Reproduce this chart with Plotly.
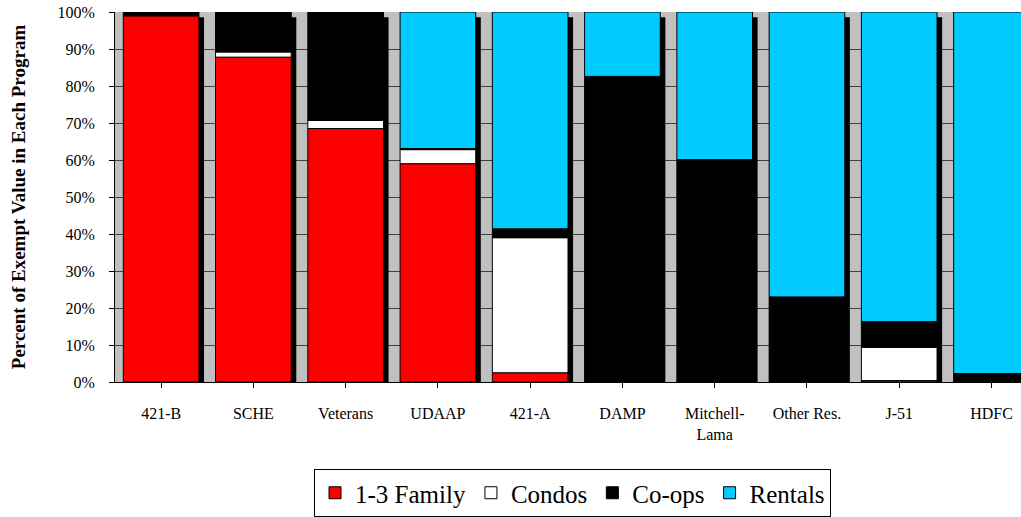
import numpy as np
import plotly.graph_objects as go

programs = ["421-B", "SCHE", "Veterans", "UDAAP", "421-A", "DAMP",
            "Mitchell-<br>Lama", "Other Res.", "J-51", "HDFC"]
family_1_3 = [99.0, 87.8, 68.5, 59.0, 2.5, 0.0, 0.0, 0.0, 0.4, 0.0]
condos = [0.0, 1.4, 2.2, 3.8, 36.5, 0.0, 0.0, 0.0, 9.0, 0.0]
coops = [1.0, 10.8, 29.3, 0.3, 2.4, 82.6, 60.1, 23.0, 6.9, 2.3]
rentals = [0.0, 0.0, 0.0, 36.9, 58.6, 17.4, 39.9, 77.0, 83.7, 97.7]
y_ticks = list(range(0, 101, 10))
y_tick_labels = [f"{v}%" for v in y_ticks]

series = [
    ("1-3 Family", family_1_3, "#FF0000"),
    ("Condos", condos, "#FFFFFF"),
    ("Co-ops", coops, "#000000"),
    ("Rentals", rentals, "#00CCFF"),
]

FONT = "Liberation Serif"
BAR_W = 0.82
SHADOW_DX = 0.055
SHADOW_DY = 1.4

fig = go.Figure()

totals = np.sum([s[1] for s in series], axis=0)
xs = list(range(len(programs)))

# drop shadow behind each stacked column
fig.add_trace(go.Bar(
    x=xs, y=totals, base=-SHADOW_DY * np.ones(len(xs)),
    width=BAR_W, offset=-BAR_W / 2 + SHADOW_DX,
    marker=dict(color="#000000", line=dict(width=0)),
    showlegend=False, hoverinfo="skip",
))

cum = np.zeros(len(programs))
for name, vals, color in series:
    vals = np.array(vals, dtype=float)
    fig.add_trace(go.Bar(
        name=name, x=xs, y=vals, base=cum.copy(),
        width=BAR_W,
        marker=dict(color=color, line=dict(color="#000000", width=1)),
    ))
    cum = cum + vals

fig.update_layout(
    barmode="overlay",
    width=1021, height=517,
    margin=dict(l=115, r=0, t=12, b=134),
    paper_bgcolor="#FFFFFF",
    plot_bgcolor="#C0C0C0",
    font=dict(family=FONT, color="#000000", size=16),
    legend=dict(
        orientation="h", x=0.505, xanchor="center", y=-0.236, yanchor="top",
        bordercolor="#000000", borderwidth=1, bgcolor="#FFFFFF",
        font=dict(family=FONT, size=25, color="#000000"),
        tracegroupgap=0, itemclick=False,
    ),
    xaxis=dict(
        tickmode="array", tickvals=xs, ticktext=programs,
        range=[-0.5, 9.32],
        showline=True, linecolor="#000000", linewidth=1,
        ticks="outside", ticklen=5, tickcolor="#000000",
        showgrid=False, zeroline=False,
        tickfont=dict(family=FONT, size=16),
        ticklabelstandoff=12,
    ),
    yaxis=dict(
        range=[0, 100],
        tickmode="array", tickvals=y_ticks, ticktext=y_tick_labels,
        showline=True, linecolor="#000000", linewidth=1,
        ticks="outside", ticklen=5, tickcolor="#000000",
        showgrid=True, gridcolor="#404040", gridwidth=1,
        zeroline=False,
        tickfont=dict(family=FONT, size=16),
        ticklabelstandoff=11,
        title=dict(text="<b>Percent of Exempt Value in Each Program</b>",
                   font=dict(family=FONT, size=19), standoff=26),
    ),
)

fig.update_xaxes(tickson="boundaries")

fig.write_html("out.html", config={"displayModeBar": False},
               post_script="document.body.style.margin='0';")
